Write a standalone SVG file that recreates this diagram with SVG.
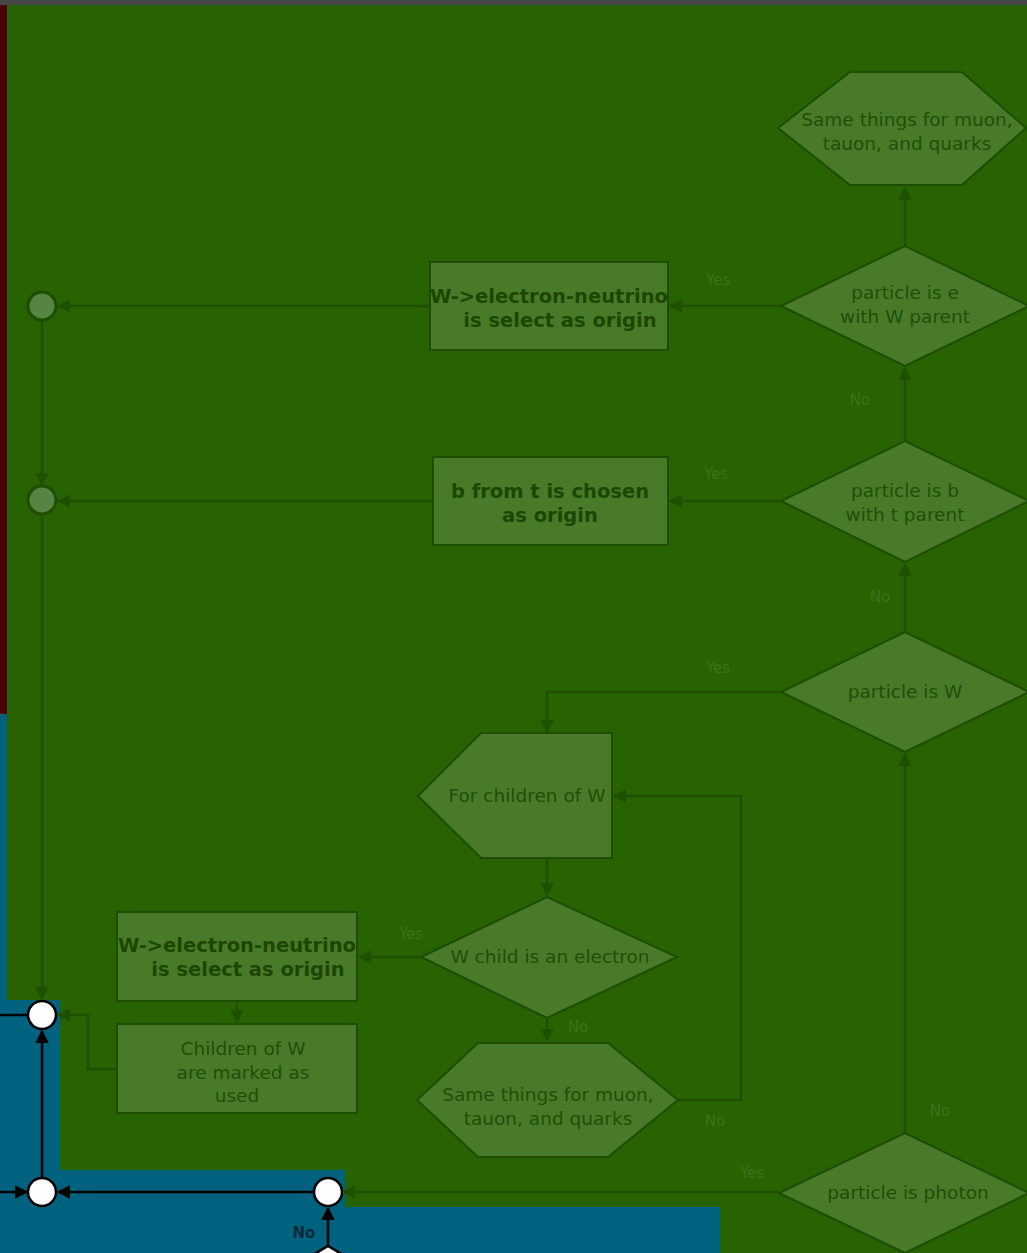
<svg xmlns="http://www.w3.org/2000/svg" width="1027" height="1253" viewBox="0 0 1027 1253">
  <style>
    .node { fill: #497a29; stroke: #1e4c00; stroke-width: 2; }
    .merge { fill: #568443; stroke: #1e4c00; stroke-width: 3; }
    .txt { font-family: "DejaVu Sans", Verdana, sans-serif; font-size: 18.5px; fill: #214f07; text-anchor: middle; }
    .bold { font-weight: bold; font-size: 19.5px; fill: #1c4700; }
    .lbl { font-family: "DejaVu Sans", Verdana, sans-serif; font-size: 15px; fill: #3d721c; text-anchor: middle; }
    .edge { fill: none; stroke: #1f5000; stroke-width: 2.5; }
    .bedge { fill: none; stroke: #000; stroke-width: 2.5; }
    .joint { fill: #fff; stroke: #000; stroke-width: 2.5; }
  </style>
  <defs>
    <marker id="ga" viewBox="0 0 10 10" refX="9" refY="5" markerWidth="5.5" markerHeight="5.5" orient="auto" markerUnits="strokeWidth">
      <path d="M0,0 L10,5 L0,10 z" fill="#1f5000"/>
    </marker>
    <marker id="ba" viewBox="0 0 10 10" refX="9" refY="5" markerWidth="5.5" markerHeight="5.5" orient="auto" markerUnits="strokeWidth">
      <path d="M0,0 L10,5 L0,10 z" fill="#000"/>
    </marker>
  </defs>

  <!-- underlying canvas -->
  <rect x="0" y="0" width="1027" height="1253" fill="#00627e"/>
  <rect x="0" y="0" width="1027" height="5" fill="#474747"/>
  <rect x="0" y="5" width="7" height="709" fill="#4a0000"/>

  <!-- junctions and links on the open canvas -->
  <g id="canvas-links">
    <path class="bedge" d="M0,1015 L28,1015"/>
    <path class="bedge" d="M42,1178 L42,1031" marker-end="url(#ba)"/>
    <path class="bedge" d="M0,1192 L27,1192" marker-end="url(#ba)"/>
    <path class="bedge" d="M314,1192 L58,1192" marker-end="url(#ba)"/>
    <path class="bedge" d="M328,1246 L328,1208" marker-end="url(#ba)"/>
    <text x="304" y="1238" font-family="DejaVu Sans, sans-serif" font-size="15" font-weight="bold" fill="#0b2a3a" text-anchor="middle">No</text>
  </g>
  <g id="j-top"><circle class="joint" cx="42" cy="1015" r="14"/></g>
  <g id="j-bottom"><circle class="joint" cx="42" cy="1192" r="14"/></g>
  <g id="j-photon"><circle class="joint" cx="328" cy="1192" r="14"/></g>
  <g id="next-decision"><polygon class="joint" points="328,1246 372,1272 328,1298 284,1272"/></g>

  <!-- shaded region -->
  <polygon fill="#276300" points="7,5 1027,5 1027,1253 720,1253 720,1207 345,1207 345,1170 60,1170 60,1000 7,1000"/>

  <!-- connectors -->
  <g id="connectors">
    <path class="edge" d="M905,245 L905,188" marker-end="url(#ga)"/>
    <path class="edge" d="M780,306 L670,306" marker-end="url(#ga)"/>
    <path class="edge" d="M430,306 L58,306" marker-end="url(#ga)"/>
    <path class="edge" d="M42,321 L42,485" marker-end="url(#ga)"/>
    <path class="edge" d="M905,441 L905,368" marker-end="url(#ga)"/>
    <path class="edge" d="M780,501 L670,501" marker-end="url(#ga)"/>
    <path class="edge" d="M433,501 L58,501" marker-end="url(#ga)"/>
    <path class="edge" d="M42,515 L42,999" marker-end="url(#ga)"/>
    <path class="edge" d="M905,632 L905,564" marker-end="url(#ga)"/>
    <path class="edge" d="M780,692 L547,692 L547,732" marker-end="url(#ga)"/>
    <path class="edge" d="M547,858 L547,895" marker-end="url(#ga)"/>
    <path class="edge" d="M420,957 L359,957" marker-end="url(#ga)"/>
    <path class="edge" d="M237,1001 L237,1022" marker-end="url(#ga)"/>
    <path class="edge" d="M117,1069 L88,1069 L88,1015 L58,1015" marker-end="url(#ga)"/>
    <path class="edge" d="M547,1018 L547,1041" marker-end="url(#ga)"/>
    <path class="edge" d="M678,1100 L741,1100 L741,796 L614,796" marker-end="url(#ga)"/>
    <path class="edge" d="M905,1133 L905,754" marker-end="url(#ga)"/>
    <path class="edge" d="M778,1192 L343,1192" marker-end="url(#ga)"/>

    <text class="lbl" x="718" y="285">Yes</text>
    <text class="lbl" x="860" y="405">No</text>
    <text class="lbl" x="716" y="479">Yes</text>
    <text class="lbl" x="880" y="602">No</text>
    <text class="lbl" x="718" y="673">Yes</text>
    <text class="lbl" x="411" y="939">Yes</text>
    <text class="lbl" x="578" y="1032">No</text>
    <text class="lbl" x="715" y="1126">No</text>
    <text class="lbl" x="940" y="1116">No</text>
    <text class="lbl" x="752" y="1178">Yes</text>
  </g>

  <!-- nodes -->
  <g id="same-things-top">
    <polygon class="node" points="778,128 850,72 962,72 1026,128 962,185 850,185"/>
    <text class="txt" x="907" y="126">Same things for muon,</text>
    <text class="txt" x="907" y="150">tauon, and quarks</text>
  </g>

  <g id="is-e-with-w">
    <polygon class="node" points="781,306 905,246 1029,306 905,366"/>
    <text class="txt" x="905" y="299">particle is e</text>
    <text class="txt" x="905" y="323">with W parent</text>
  </g>

  <g id="enu-origin-top">
    <rect class="node" x="430" y="262" width="238" height="88"/>
    <text class="txt bold" x="549" y="303">W-&gt;electron-neutrino</text>
    <text class="txt bold" x="560" y="327">is select as origin</text>
  </g>

  <g id="merge-1"><circle class="merge" cx="42" cy="306" r="14"/></g>
  <g id="merge-2"><circle class="merge" cx="42" cy="500" r="14"/></g>

  <g id="is-b-with-t">
    <polygon class="node" points="781,501 905,441 1029,501 905,562"/>
    <text class="txt" x="905" y="497">particle is b</text>
    <text class="txt" x="905" y="521">with t parent</text>
  </g>

  <g id="b-origin">
    <rect class="node" x="433" y="457" width="235" height="88"/>
    <text class="txt bold" x="550" y="498">b from t is chosen</text>
    <text class="txt bold" x="550" y="522">as origin</text>
  </g>

  <g id="is-w">
    <polygon class="node" points="781,692 905,632 1029,692 905,752"/>
    <text class="txt" x="905" y="698">particle is W</text>
  </g>

  <g id="children-loop">
    <polygon class="node" points="418,796 481,733 612,733 612,858 481,858"/>
    <text class="txt" x="527" y="802">For children of W</text>
  </g>

  <g id="w-child-electron">
    <polygon class="node" points="421,957 547,897 677,957 547,1018"/>
    <text class="txt" x="550" y="963">W child is an electron</text>
  </g>

  <g id="enu-origin-bottom">
    <rect class="node" x="117" y="912" width="240" height="89"/>
    <text class="txt bold" x="237" y="952">W-&gt;electron-neutrino</text>
    <text class="txt bold" x="248" y="976">is select as origin</text>
  </g>

  <g id="children-used">
    <rect class="node" x="117" y="1024" width="240" height="89"/>
    <text class="txt" x="243" y="1055">Children of W</text>
    <text class="txt" x="243" y="1079">are marked as</text>
    <text class="txt" x="237" y="1102">used</text>
  </g>

  <g id="same-things-bottom">
    <polygon class="node" points="417,1100 478,1043 608,1043 678,1100 608,1157 478,1157"/>
    <text class="txt" x="548" y="1101">Same things for muon,</text>
    <text class="txt" x="548" y="1125">tauon, and quarks</text>
  </g>

  <g id="is-photon">
    <polygon class="node" points="779,1193 905,1133 1029,1193 905,1253"/>
    <text class="txt" x="908" y="1199">particle is photon</text>
  </g>
</svg>
